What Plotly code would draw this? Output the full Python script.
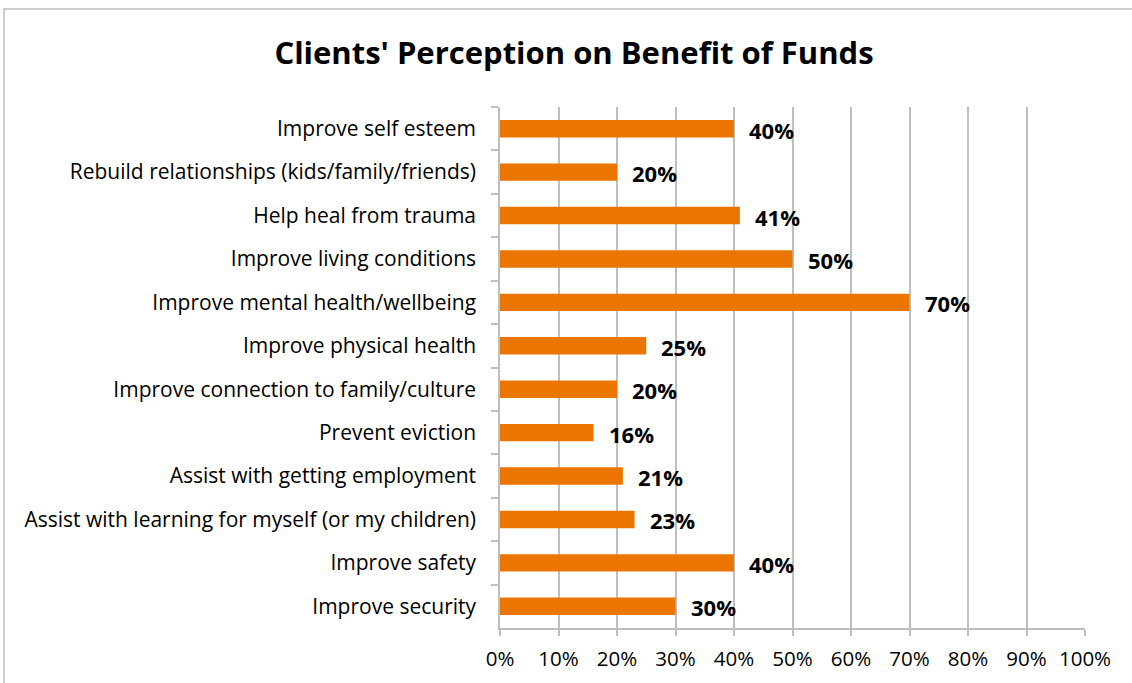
import plotly.graph_objects as go

# Survey results, listed top to bottom as shown on the chart
categories = [
    "Improve self esteem",
    "Rebuild relationships (kids/family/friends)",
    "Help heal from trauma",
    "Improve living conditions",
    "Improve mental health/wellbeing",
    "Improve physical health",
    "Improve connection to family/culture",
    "Prevent eviction",
    "Assist with getting employment",
    "Assist with learning for myself (or my children)",
    "Improve safety",
    "Improve security",
]
percent_values = [40, 20, 41, 50, 70, 25, 20, 16, 21, 23, 40, 30]
x_tick_values = [0, 10, 20, 30, 40, 50, 60, 70, 80, 90, 100]
x_tick_labels = [f"{v}%" for v in x_tick_values]

BAR_COLOR = "#EA7600"
GRID_COLOR = "#BFBFBF"
FONT = "Open Sans"

W, H = 1132, 683
L, R, T, B = 500, 47, 107, 55

fig = go.Figure(
    go.Bar(
        x=percent_values,
        y=categories,
        orientation="h",
        marker=dict(color=BAR_COLOR, line=dict(width=0)),
        width=0.4,
        hoverinfo="x+y",
    )
)

# Bold value labels to the right of each bar
for cat, val in zip(categories, percent_values):
    fig.add_annotation(
        x=val, y=cat, xref="x", yref="y",
        text=f"<b>{val}%</b>",
        showarrow=False, xanchor="left", yanchor="middle",
        xshift=13, yshift=-1,
        font=dict(family=FONT, size=22, color="#000000"),
    )

# Outer chart border
pw, ph = W - L - R, H - T - B
fig.add_shape(
    type="rect", xref="paper", yref="paper",
    x0=(4 - L) / pw, x1=(W + 20 - L) / pw,
    y0=-(B + 20) / ph, y1=(H - B - 9) / ph,
    line=dict(color="#BFBFBF", width=1.5), fillcolor="rgba(0,0,0,0)",
    layer="below",
)

fig.update_layout(
    width=W, height=H,
    margin=dict(l=L, r=R, t=T, b=B),
    paper_bgcolor="white", plot_bgcolor="white",
    showlegend=False,
    title=dict(
        text="<b>Clients' Perception on Benefit of Funds</b>",
        x=(574) / W, xanchor="center",
        y=1 - 53 / H, yanchor="middle",
        font=dict(family=FONT, size=31, color="#000000"),
    ),
    font=dict(family=FONT, size=21, color="#000000"),
    xaxis=dict(
        range=[0, 100],
        tickvals=x_tick_values, ticktext=x_tick_labels,
        showgrid=True, gridcolor=GRID_COLOR, gridwidth=1.5,
        showline=True, linecolor=GRID_COLOR, linewidth=1.5,
        ticks="outside", ticklen=6, tickcolor=GRID_COLOR, tickwidth=1.5,
        ticklabelstandoff=6,
        zeroline=False,
        tickfont=dict(family=FONT, size=20.5, color="#000000"),
        fixedrange=True,
    ),
    yaxis=dict(
        autorange="reversed",
        showline=True, linecolor=GRID_COLOR, linewidth=1.5,
        ticks="outside", ticklen=7, tickcolor=GRID_COLOR, tickwidth=1.5,
        tickson="boundaries",
        ticklabelstandoff=18,
        showgrid=False,
        tickfont=dict(family=FONT, size=21, color="#000000"),
        fixedrange=True,
    ),
)

fig.write_html("out.html", config={"displayModeBar": False})
